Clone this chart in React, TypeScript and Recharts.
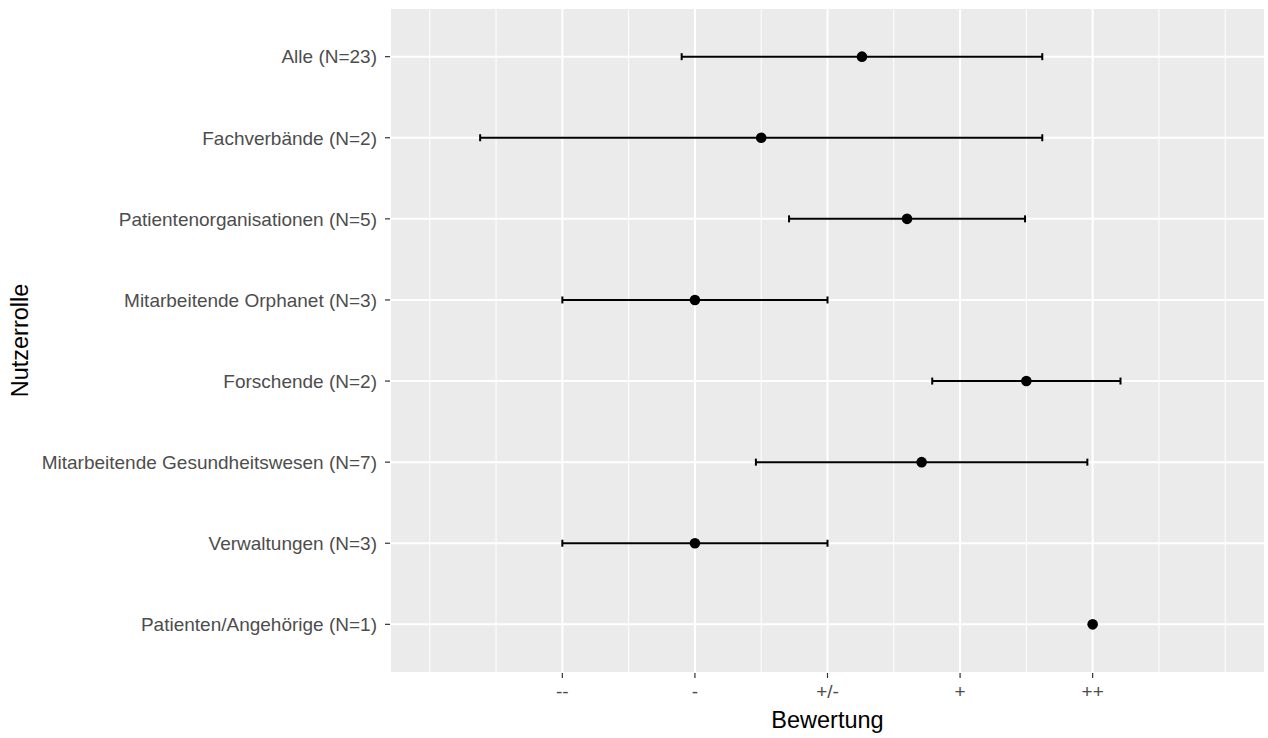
import {
  CartesianGrid,
  ErrorBar,
  ReferenceLine,
  Scatter,
  ScatterChart,
  XAxis,
  YAxis,
} from "recharts";

const roles = [
  "Alle (N=23)",
  "Fachverbände (N=2)",
  "Patientenorganisationen (N=5)",
  "Mitarbeitende Orphanet (N=3)",
  "Forschende (N=2)",
  "Mitarbeitende Gesundheitswesen (N=7)",
  "Verwaltungen (N=3)",
  "Patienten/Angehörige (N=1)",
];
const means = [3.26, 2.5, 3.6, 2, 4.5, 3.71, 2, 5];
const sds = [1.36, 2.12, 0.89, 1, 0.71, 1.25, 1, null];

const ratingTicks = [1, 2, 3, 4, 5];
const ratingLabels = ["--", "-", "+/-", "+", "++"];
const minorBreaks = [0, 0.5, 1.5, 2.5, 3.5, 4.5, 5.5, 6];
const roleTicks = [1, 2, 3, 4, 5, 6, 7, 8];

const data = roles.map((role, i) => ({
  role,
  pos: roles.length - i,
  mean: means[i],
  sd: sds[i],
}));

const FONT = "'Liberation Sans', Arial, sans-serif";

const Dot = (props: any) => (
  <circle cx={props.cx} cy={props.cy} r={5.3} fill="#000000" />
);

export default function App() {
  return (
    <div
      style={{
        position: "absolute",
        left: 0,
        top: 0,
        width: 1268,
        height: 738,
        background: "#ffffff",
        fontFamily: FONT,
      }}
    >
      <ScatterChart
        width={1268}
        height={738}
        margin={{ top: 8, right: 3, bottom: 0, left: 0 }}
      >
        <CartesianGrid
          fill="#EBEBEB"
          stroke="#FFFFFF"
          strokeWidth={2}
          strokeOpacity={1}
          fillOpacity={1}
        />
        <XAxis
          type="number"
          dataKey="mean"
          domain={[-0.3, 6.3]}
          allowDataOverflow
          ticks={ratingTicks}
          interval={0}
          tickFormatter={(v: number) => ratingLabels[ratingTicks.indexOf(v)] ?? ""}
          height={65}
          axisLine={false}
          tickSize={5}
          tickMargin={7}
          tickLine={{ stroke: "#333333", strokeWidth: 1.2 }}
          tick={{ fill: "#4D4D4D", fontSize: 19, fontFamily: FONT }}
          label={{
            value: "Bewertung",
            position: "insideBottom",
            offset: 10,
            fill: "#000000",
            fontSize: 23.5,
            fontFamily: FONT,
          }}
        />
        <YAxis
          type="number"
          dataKey="pos"
          domain={[0.4, 8.6]}
          allowDataOverflow
          ticks={roleTicks}
          interval={0}
          tickFormatter={(v: number) => roles[roles.length - v] ?? ""}
          width={390}
          axisLine={false}
          tickSize={5}
          tickMargin={8}
          tickLine={{ stroke: "#333333", strokeWidth: 1.2 }}
          tick={{ fill: "#4D4D4D", fontSize: 19, fontFamily: FONT }}
          label={{
            value: "Nutzerrolle",
            angle: -90,
            position: "insideLeft",
            offset: 20,
            fill: "#000000",
            fontSize: 23.5,
            fontFamily: FONT,
            style: { textAnchor: "middle" },
          }}
        />
        {minorBreaks.map((b) => (
          <ReferenceLine
            key={b}
            x={b}
            stroke="#FFFFFF"
            strokeWidth={1}
            ifOverflow="extendDomain"
          />
        ))}
        <Scatter data={data} shape={<Dot />} isAnimationActive={false}>
          <ErrorBar
            dataKey="sd"
            direction="x"
            width={3.5}
            stroke="#000000"
            strokeWidth={2}
          />
        </Scatter>
      </ScatterChart>
    </div>
  );
}
